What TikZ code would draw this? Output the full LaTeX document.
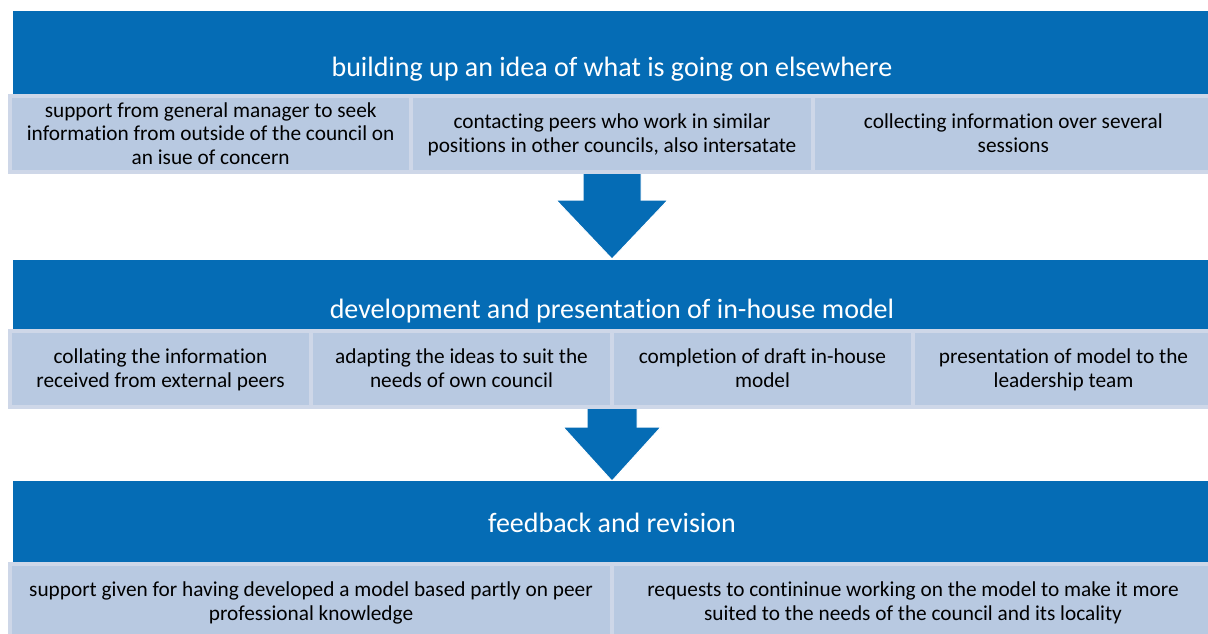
\documentclass[tikz,border=0pt]{standalone}
\usepackage{fontspec}
\setmainfont{Carlito}[Ligatures=NoCommon]
\usetikzlibrary{positioning}

\definecolor{barblue}{RGB}{5,108,181}
\definecolor{cellfill}{RGB}{184,201,225}
\definecolor{cellline}{RGB}{206,215,232}

\tikzset{
  bar/.style={fill=barblue, inner sep=0, outer sep=0, minimum width=1198, anchor=north},
  bartext/.style={text=white, inner sep=0, font=\fontsize{28}{32}\selectfont},
  cell/.style={fill=cellfill, draw=cellline, line width=4, inner sep=0, outer sep=0,
    anchor=north west, minimum height=76, minimum width=#1, align=center,
    text depth=1.5, font=\fontsize{21.3}{23.5}\selectfont},
  blockarrow/.style={fill=barblue, draw=white, line width=1},
}

\begin{document}
\begin{tikzpicture}[x=1pt, y=-1pt]
    \useasboundingbox (0,0) rectangle (1208,634);

    % block arrows go first, the bars and cells sit on top
    \draw[blockarrow] (583,172) -- (583,200) -- (556,200) -- (612,259)
        -- (668,200) -- (641,200) -- (641,172);
    \draw[blockarrow] (587,407) -- (587,427) -- (563,427) -- (612,481)
        -- (661,427) -- (637,427) -- (637,407);

    % stage bars
    \node[bar, minimum height=83] (idea) at (612,11) {};
    \node[bar, minimum height=69] (model) at (612,260) {};
    \node[bar, minimum height=81] (review) at (612,481) {};
    \node[bartext] (ideatext) at (612,69.5) {building up an idea of what is going on elsewhere};
    \node[bartext] (modeltext) at (612,311.5) {development and presentation of in-house model};
    \node[bartext] (reviewtext) at (612,523) {feedback and revision};

    % first stage
    \node[cell=401.33] (idea1) at (10,96) {support from general manager to seek\\information from outside of the council on\\an isue of concern};
    \node[cell=401.33] (idea2) at (411.33,96) {contacting peers who work in similar\\positions in other councils, also intersatate};
    \node[cell=401.33] (idea3) at (812.67,96) {collecting information over several\\sessions};

    % second stage
    \node[cell=301] (model1) at (10,331) {collating the information\\received from external peers};
    \node[cell=301] (model2) at (311,331) {adapting the ideas to suit the\\needs of own council};
    \node[cell=301] (model3) at (612,331) {completion of draft in-house\\model};
    \node[cell=301] (model4) at (913,331) {presentation of model to the\\leadership team};

    % third stage
    \node[cell=602] (review1) at (10,564) {support given for having developed a model based partly on peer\\professional knowledge};
    \node[cell=602] (review2) at (612,564) {requests to contininue working on the model to make it more\\suited to the needs of the council and its locality};
\end{tikzpicture}
\end{document}
